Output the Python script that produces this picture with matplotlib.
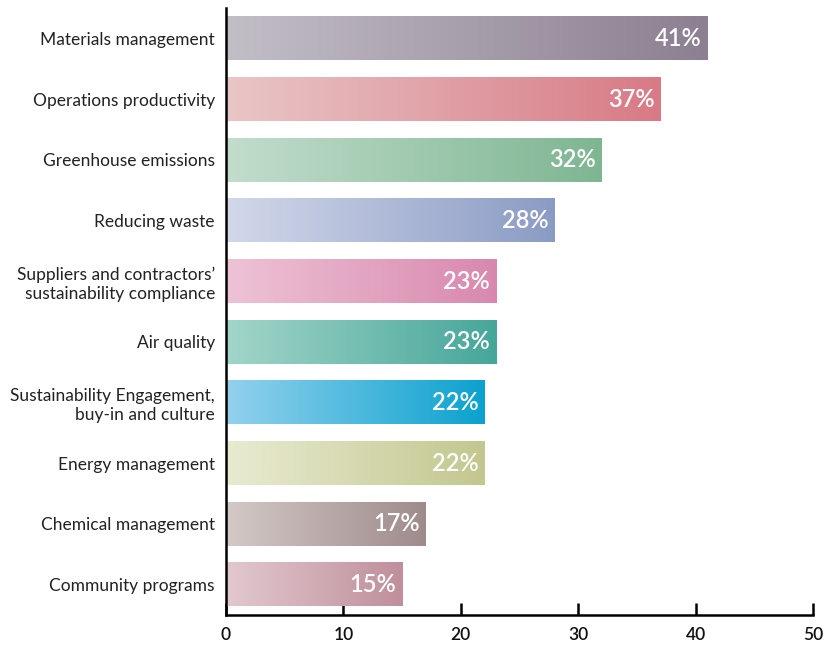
import matplotlib
matplotlib.use("Agg")
import matplotlib.pyplot as plt
import numpy as np
from matplotlib.colors import LinearSegmentedColormap

plt.rcParams['font.family'] = ['Lato', 'DejaVu Sans']

categories = [
    "Materials management",
    "Operations productivity",
    "Greenhouse emissions",
    "Reducing waste",
    "Suppliers and contractors\u2019\nsustainability compliance",
    "Air quality",
    "Sustainability Engagement,\nbuy-in and culture",
    "Energy management",
    "Chemical management",
    "Community programs",
]
values = [41, 37, 32, 28, 23, 23, 22, 22, 17, 15]
# (left colour, right colour) of each bar's gradient
start_colors = ["#c2bec6", "#e9c6c7", "#c2ddcd", "#d2d8ea", "#eec3d6",
                "#a3d5c9", "#93d1ed", "#e9ebd2", "#d3c9c7", "#e2c9cf"]
end_colors = ["#8c7f91", "#d87a85", "#7eb692", "#8a9bc4", "#d888ae",
              "#46a69a", "#0ba2cf", "#c3c78e", "#9f8b8b", "#bf8f9b"]
xticks = [0, 10, 20, 30, 40, 50]

fig = plt.figure(figsize=(8.33, 6.47), dpi=100)
ax = fig.add_axes([0.2713, 0.0495, 0.7047, 0.938])

n = len(categories)
ypos = np.arange(n)[::-1]
height = 0.72
grad = np.linspace(0, 1, 256).reshape(1, -1)

bars = ax.barh(ypos, values, height=height, color="none", edgecolor="none")
for bar, v, c0, c1 in zip(bars, values, start_colors, end_colors):
    y0 = bar.get_y()
    cmap = LinearSegmentedColormap.from_list("g", [c0, c1])
    ax.imshow(grad, extent=[0, v, y0, y0 + height], aspect="auto",
              cmap=cmap, interpolation="bicubic", zorder=2)
    ax.text(v - 0.5, y0 + height / 2, f"{v}%", color="white", fontsize=17,
            fontweight="semibold", ha="right", va="center", zorder=3)

ax.set_xlim(0, 50)
ax.set_ylim(-0.5, n - 0.5)
ax.set_yticks(ypos)
ax.set_yticklabels(categories, fontsize=12.5, color="#222222",
                   linespacing=1.25)
ax.set_xticks(xticks)
ax.set_xticklabels([str(t) for t in xticks], fontsize=12.5, color="#111111",
                   fontweight="semibold")

for side in ["top", "right"]:
    ax.spines[side].set_visible(False)
ax.spines["left"].set_linewidth(1.8)
ax.spines["bottom"].set_linewidth(1.8)
ax.tick_params(axis="x", direction="in", length=9, width=1.8, pad=9)
ax.tick_params(axis="y", length=0, pad=8)

fig.savefig("out.png", dpi=100)
